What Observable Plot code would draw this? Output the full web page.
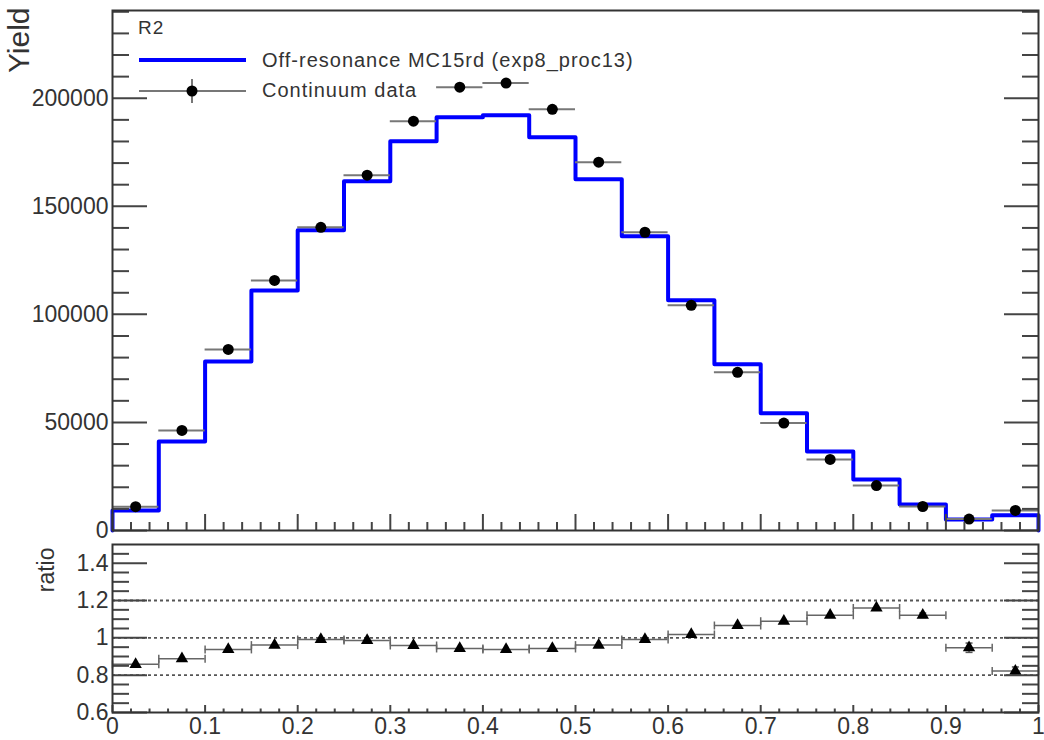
<!DOCTYPE html>
<html><head><meta charset="utf-8">
<script src="https://cdn.jsdelivr.net/npm/d3@7"></script>
<script src="https://cdn.jsdelivr.net/npm/@observablehq/plot@0.6"></script>
<style>
body{margin:0;background:#fff;}
#wrap{position:relative;width:1044px;height:740px;font-family:"Liberation Sans",Arial,sans-serif;}
#wrap > svg{display:block;}
#legend{position:absolute;left:0;top:0;}
</style></head><body><div id="wrap"></div>
<script>
// ---- data ----
const binLo  = [0,0.05,0.1,0.15,0.2,0.25,0.3,0.35,0.4,0.45,0.5,0.55,0.6,0.65,0.7,0.75,0.8,0.85,0.9,0.95];
const binHi  = [0.05,0.1,0.15,0.2,0.25,0.3,0.35,0.4,0.45,0.5,0.55,0.6,0.65,0.7,0.75,0.8,0.85,0.9,0.95,1];
const binMid = [0.025,0.075,0.125,0.175,0.225,0.275,0.325,0.375,0.425,0.475,0.525,0.575,0.625,0.675,0.725,0.775,0.825,0.875,0.925,0.975];
const mcYield   = [9300,41200,78200,111100,138900,161600,180100,191200,192100,182000,162500,136100,106500,76900,54200,36600,23600,12000,5100,7100];
const dataYield = [11000,46300,83800,115700,140300,164400,189400,205100,207000,194900,170400,138000,104200,73200,49700,32900,20800,11100,5300,9300];
const ratio     = [0.858,0.888,0.938,0.961,0.991,0.986,0.959,0.943,0.938,0.943,0.961,0.991,1.018,1.066,1.089,1.121,1.160,1.121,0.947,0.822];
const ratioErr  = [0.004,0.003,0.003,0.003,0.003,0.003,0.003,0.003,0.003,0.003,0.003,0.003,0.003,0.004,0.005,0.006,0.008,0.012,0.025,0.022];
const yieldTicks = [0,50000,100000,150000,200000];
const yieldMinor = d3.range(10000, 240001, 10000).filter(v => v % 50000 !== 0);
const ratioTicks = [0.6,0.8,1,1.2,1.4];
const ratioMinor = [0.65,0.7,0.75,0.85,0.9,0.95,1.05,1.1,1.15,1.25,1.3,1.35,1.45];
const refLines = [0.8,1,1.2];
const xTicks = [0,0.1,0.2,0.3,0.4,0.5,0.6,0.7,0.8,0.9,1];
const xMinor = d3.range(0, 1.0001, 0.02).map(v => +v.toFixed(2)).filter(v => Math.round(v*100) % 10 !== 0);
const legendLabels = ["Off-resonance MC15rd (exp8_proc13)", "Continuum data"];
const tag = "R2";
const yTitle = "Yield", rTitle = "ratio";

const rows = binMid.map((m, i) => ({lo: binLo[i], hi: binHi[i], mid: m, mc: mcYield[i], data: dataYield[i], ratio: ratio[i], err: ratioErr[i]}));
const stepPts = [{x: binLo[0], y: 0}, ...binLo.map((x, i) => ({x, y: mcYield[i]})),
  {x: binHi[binHi.length-1], y: mcYield[mcYield.length-1]}, {x: binHi[binHi.length-1], y: 0}];

const vCap = {draw(ctx, size){ const h = Math.sqrt(size/Math.PI); ctx.moveTo(0,-h); ctx.lineTo(0,h); }};
const hCap = {draw(ctx, size){ const h = Math.sqrt(size/Math.PI); ctx.moveTo(-h,0); ctx.lineTo(h,0); }};

const axC = "#444";
const blank = () => "";
const font = "'Liberation Sans', Arial, sans-serif";

// ---- top panel ----
const topPlot = Plot.plot({
  width: 1044, height: 537,
  marginLeft: 112, marginRight: 6, marginTop: 10, marginBottom: 7,
  x: {domain: [0, 1], label: null},
  y: {domain: [0, 240600], label: null},
  style: {fontFamily: font, fontSize: "23px", color: "#333", background: "white", overflow: "visible"},
  marks: [
    Plot.line(stepPts, {x: "x", y: "y", curve: "step-after", stroke: "#0000ff", strokeWidth: 4}),
    Plot.ruleY(rows, {y: "data", x1: "lo", x2: "hi", stroke: "#777", strokeWidth: 2}),
    Plot.dot(rows, {x: "mid", y: "data", r: 5.5, fill: "black"}),
    Plot.axisY(yieldTicks, {anchor: "left", tickSize: 35, dx: 35, tickFormat: blank, stroke: axC, strokeWidth: 2, label: null}),
    Plot.axisY(yieldMinor, {anchor: "left", tickSize: 17, dx: 17, tickFormat: blank, stroke: axC, strokeWidth: 2, label: null}),
    Plot.axisY(yieldTicks, {anchor: "right", tickSize: 35, dx: -35, tickFormat: blank, stroke: axC, strokeWidth: 2, label: null}),
    Plot.axisY(yieldMinor, {anchor: "right", tickSize: 17, dx: -17, tickFormat: blank, stroke: axC, strokeWidth: 2, label: null}),
    Plot.axisX(xTicks, {anchor: "bottom", tickSize: 16, dy: -16, tickFormat: blank, stroke: axC, strokeWidth: 2, label: null}),
    Plot.axisX(xMinor, {anchor: "bottom", tickSize: 8, dy: -8, tickFormat: blank, stroke: axC, strokeWidth: 2, label: null}),
    Plot.axisY(yieldTicks, {anchor: "left", tickSize: 0, tickPadding: 4, tickFormat: d => String(d), label: null}),
    Plot.text([yTitle], {frameAnchor: "top-left", rotate: -90, textAnchor: "end", lineAnchor: "middle", dx: -93, dy: -3, fontSize: 30, fill: "#333"}),
    Plot.frame({stroke: "#333", strokeWidth: 2})
  ]
});

// ---- bottom panel ----
const bottomPlot = Plot.plot({
  width: 1044, height: 203,
  marginLeft: 112, marginRight: 6, marginTop: 7, marginBottom: 28,
  x: {domain: [0, 1], label: null},
  y: {domain: [0.6, 1.5], label: null},
  style: {fontFamily: font, fontSize: "23px", color: "#333", background: "white", overflow: "visible"},
  marks: [
    Plot.ruleY(refLines, {stroke: "#555", strokeWidth: 1.8, strokeDasharray: "3,3"}),
    Plot.ruleY(rows, {y: "ratio", x1: "lo", x2: "hi", stroke: "#666", strokeWidth: 1.5}),
    Plot.dot(rows, {x: "lo", y: "ratio", symbol: vCap, r: 4, stroke: "#666", strokeWidth: 1.5, fill: "none"}),
    Plot.dot(rows, {x: "hi", y: "ratio", symbol: vCap, r: 4, stroke: "#666", strokeWidth: 1.5, fill: "none"}),
    Plot.ruleX(rows, {x: "mid", y1: d => d.ratio - d.err, y2: d => d.ratio + d.err, stroke: "#555", strokeWidth: 1.5}),
    Plot.dot(rows.filter(d => d.err > 0.01), {x: "mid", y: d => d.ratio + d.err, symbol: hCap, r: 3.5, stroke: "#555", strokeWidth: 1.5, fill: "none"}),
    Plot.dot(rows.filter(d => d.err > 0.01), {x: "mid", y: d => d.ratio - d.err, symbol: hCap, r: 3.5, stroke: "#555", strokeWidth: 1.5, fill: "none"}),
    Plot.dot(rows, {x: "mid", y: "ratio", symbol: "triangle", r: 4.6, fill: "black"}),
    Plot.axisY(ratioTicks, {anchor: "left", tickSize: 35, dx: 35, tickFormat: blank, stroke: axC, strokeWidth: 2, label: null}),
    Plot.axisY(ratioMinor, {anchor: "left", tickSize: 17, dx: 17, tickFormat: blank, stroke: axC, strokeWidth: 2, label: null}),
    Plot.axisY(ratioTicks, {anchor: "right", tickSize: 35, dx: -35, tickFormat: blank, stroke: axC, strokeWidth: 2, label: null}),
    Plot.axisY(ratioMinor, {anchor: "right", tickSize: 17, dx: -17, tickFormat: blank, stroke: axC, strokeWidth: 2, label: null}),
    Plot.axisX(xTicks, {anchor: "bottom", tickSize: 7, dy: -7, tickFormat: blank, stroke: axC, strokeWidth: 2, label: null}),
    Plot.axisX(xMinor, {anchor: "bottom", tickSize: 3.5, dy: -3.5, tickFormat: blank, stroke: axC, strokeWidth: 2, label: null}),
    Plot.axisY(ratioTicks, {anchor: "left", tickSize: 0, tickPadding: 4, tickFormat: d => String(d), label: null}),
    Plot.axisX(xTicks, {anchor: "bottom", tickSize: 0, tickPadding: 5, tickFormat: d => String(d), label: null}),
    Plot.text([rTitle], {frameAnchor: "top-left", rotate: -90, textAnchor: "end", lineAnchor: "middle", dx: -66, dy: 3, fontSize: 23, fill: "#333"}),
    Plot.frame({stroke: "#333", strokeWidth: 2})
  ]
});

const wrap = document.getElementById("wrap");
wrap.appendChild(topPlot);
wrap.appendChild(bottomPlot);

// ---- legend overlay ----
const NS = "http://www.w3.org/2000/svg";
const lg = document.createElementNS(NS, "svg");
lg.setAttribute("id", "legend");
lg.setAttribute("width", 700); lg.setAttribute("height", 110);
lg.style.fontFamily = font;
const el = (name, attrs, txt) => { const e = document.createElementNS(NS, name); for (const k in attrs) e.setAttribute(k, attrs[k]); if (txt) e.textContent = txt; lg.appendChild(e); return e; };
el("text", {x: 138, y: 34, "font-size": 19, "letter-spacing": 1, fill: "#333"}, tag);
el("line", {x1: 139, x2: 246, y1: 60, y2: 60, stroke: "#0000ff", "stroke-width": 4});
el("text", {x: 262, y: 60, "font-size": 20, "letter-spacing": 1, fill: "#333", "dominant-baseline": "central"}, legendLabels[0]);
el("line", {x1: 139, x2: 246, y1: 91, y2: 91, stroke: "#777", "stroke-width": 2});
el("line", {x1: 192, x2: 192, y1: 79, y2: 103, stroke: "#777", "stroke-width": 2});
el("circle", {cx: 192, cy: 91, r: 5.5, fill: "black"});
el("text", {x: 262, y: 90, "font-size": 20, "letter-spacing": 1, fill: "#333", "dominant-baseline": "central"}, legendLabels[1]);
wrap.appendChild(lg);
</script></body></html>
